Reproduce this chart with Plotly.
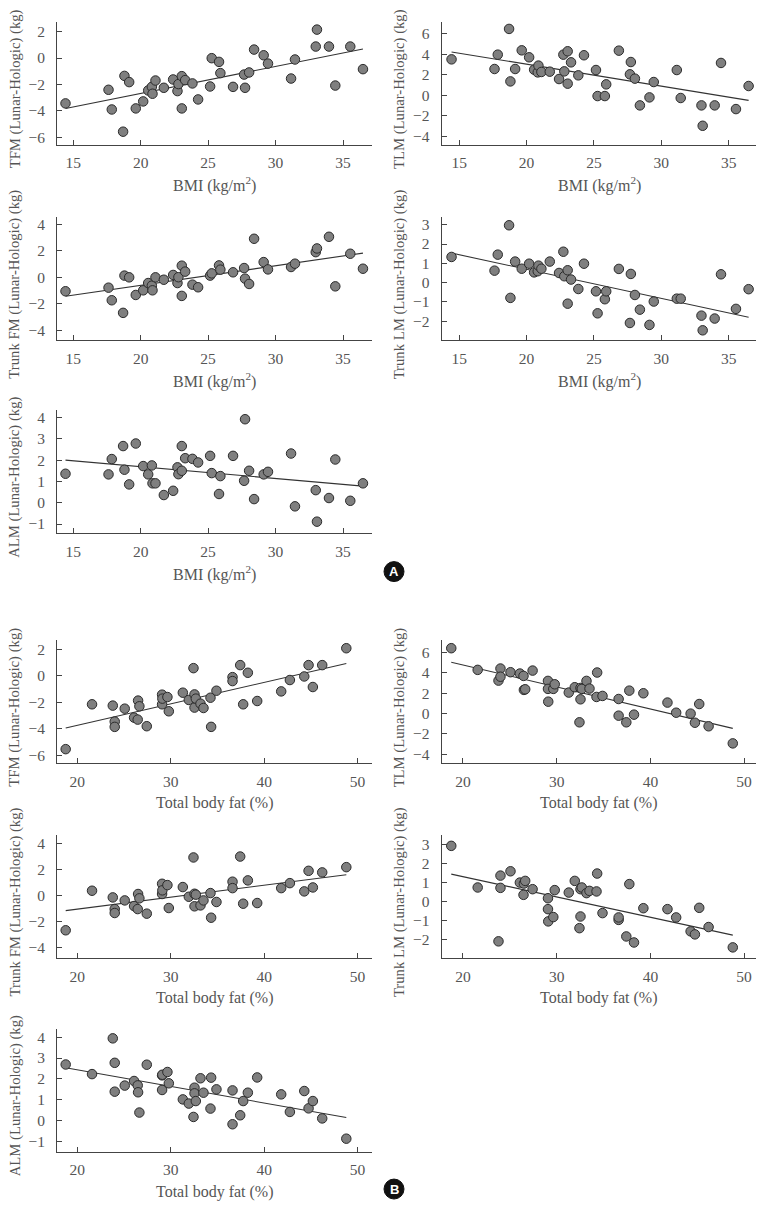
import plotly.graph_objects as go

W, H = 766, 1211

# ---------------- Data ----------------
# Section A: differences vs BMI (kg/m2)
bmi = [14.43, 17.62, 17.86, 18.70, 18.80, 19.15, 19.64, 20.19, 20.56, 20.83,
       20.88, 21.10, 21.72, 22.41, 22.73, 22.80, 23.05, 23.05, 23.30, 23.84,
       24.26, 25.15, 25.27, 25.81, 25.91, 26.85, 27.67, 27.74, 28.04, 28.41,
       29.12, 29.44, 31.15, 31.44, 32.98, 33.07, 33.96, 34.43, 35.54, 36.48]

tfm_a = [-3.43, -2.40, -3.89, -5.57, -1.35, -1.82, -3.81, -3.28, -2.45, -2.18,
         -2.70, -1.70, -2.25, -1.62, -2.50, -1.97, -1.37, -3.81, -1.67, -1.92,
         -3.13, -2.15, -0.01, -0.29, -1.14, -2.18, -1.25, -2.25, -1.09, 0.64,
         0.21, -0.42, -1.55, -0.11, 0.87, 2.15, 0.87, -2.08, 0.87, -0.84]

tlm_a = [3.52, 2.58, 3.98, 6.49, 1.37, 2.58, 4.40, 3.72, 2.51, 2.25,
         2.91, 2.29, 2.32, 1.60, 3.98, 2.35, 1.15, 4.31, 3.23, 1.96,
         3.92, 2.48, -0.06, -0.06, 1.08, 4.37, 2.06, 3.26, 1.64, -0.97,
         -0.19, 1.31, 2.48, -0.25, -0.97, -2.96, -0.97, 3.17, -1.33, 0.92]

trunkfm_a = [-1.06, -0.79, -1.74, -2.69, 0.12, -0.01, -1.34, -0.99, -0.44, -0.64,
             -0.99, -0.01, -0.19, 0.17, -0.44, 0.00, 0.87, -1.41, 0.42, -0.56,
             -0.76, 0.12, 0.29, 0.89, 0.57, 0.37, 0.69, -0.11, -0.51, 2.90,
             1.14, 0.59, 0.77, 1.02, 1.89, 2.17, 3.05, -0.69, 1.77, 0.64]

trunklm_a = [1.33, 0.62, 1.45, 2.97, -0.79, 1.09, 0.72, 0.98, 0.53, 0.59,
             0.88, 0.72, 1.09, 0.50, 1.60, 0.33, -1.09, 0.64, 0.16, -0.33,
             0.98, -0.45, -1.59, -0.86, -0.45, 0.71, -2.09, 0.45, -0.64, -1.40,
             -2.19, -0.98, -0.83, -0.83, -1.71, -2.47, -1.86, 0.43, -1.36, -0.34]

alm_a = [1.36, 1.33, 2.05, 2.66, 1.55, 0.86, 2.78, 1.72, 1.33, 1.75,
         0.91, 0.91, 0.36, 0.56, 1.66, 1.34, 1.50, 2.66, 2.09, 2.06,
         1.89, 2.20, 1.39, 0.41, 1.25, 2.20, 1.03, 3.92, 1.50, 0.17,
         1.33, 1.45, 2.31, -0.17, 0.59, -0.89, 0.22, 2.03, 0.09, 0.91]

# Section B: differences vs total body fat (%)
fat = [18.75, 21.57, 23.79, 24.00, 24.00, 25.07, 26.07, 26.46, 26.50, 26.64,
       27.43, 29.07, 29.07, 29.10, 29.64, 29.79, 31.29, 31.93, 32.43, 32.54,
       32.54, 32.68, 33.18, 33.50, 34.25, 34.32, 34.89, 36.61, 36.61, 37.43,
       37.75, 38.25, 39.25, 41.82, 42.75, 44.29, 44.75, 45.21, 46.21, 48.79]

tfm_b = [-5.55, -2.15, -2.25, -3.46, -3.86, -2.48, -3.16, -3.31, -1.87, -2.30,
         -3.81, -1.42, -2.15, -1.72, -1.60, -2.68, -1.27, -1.82, 0.59, -1.40,
         -2.40, -1.72, -2.10, -2.43, -1.65, -3.86, -1.12, -0.09, -0.39, 0.82,
         -2.15, 0.24, -1.90, -1.17, -0.31, -0.04, 0.82, -0.84, 0.82, 2.10]

tlm_b = [6.39, 4.27, 3.22, 4.40, 3.60, 4.04, 3.91, 3.68, 2.31, 2.37,
         4.20, 3.19, 2.41, 1.16, 2.41, 2.86, 2.05, 2.57, -0.86, 1.39,
         2.50, 2.41, 3.19, 2.44, 1.62, 4.01, 1.72, 1.42, -0.21, -0.86,
         2.24, -0.11, 1.98, 1.07, 0.08, -0.01, -0.90, 0.93, -1.25, -2.92]

trunkfm_b = [-2.65, 0.37, -0.14, -1.03, -1.33, -0.37, -0.80, -1.03, 0.12, -0.21,
             -1.38, 0.90, 0.12, 0.40, 0.80, -0.95, 0.65, -0.09, 2.91, 0.14,
             -0.82, 0.07, -0.75, -0.37, 0.19, -1.69, -0.49, 1.06, 0.57, 2.98,
             -0.62, 1.16, -0.57, 0.57, 0.95, 0.32, 1.89, 0.62, 1.77, 2.17]

trunklm_b = [2.95, 0.74, -2.12, 1.37, 0.72, 1.60, 1.00, 0.35, 0.95, 1.09,
             0.65, 0.17, -0.41, -1.06, -0.83, 0.60, 0.47, 1.09, -1.42, -0.80,
             0.65, 0.74, 0.44, 0.56, 0.53, 1.48, -0.62, -0.98, -0.85, -1.86,
             0.92, -2.18, -0.36, -0.41, -0.85, -1.59, -1.75, -0.34, -1.36, -2.44]

alm_b = [2.69, 2.23, 3.94, 2.77, 1.39, 1.68, 1.90, 1.69, 1.36, 0.39,
         2.68, 2.17, 1.47, 2.20, 2.33, 1.79, 1.02, 0.82, 0.18, 1.58,
         1.31, 0.94, 2.03, 1.34, 0.58, 2.06, 1.50, 1.45, -0.17, 0.26,
         0.94, 1.34, 2.07, 1.26, 0.42, 1.42, 0.59, 0.94, 0.11, -0.86]

# Regression line values at the min and max of x
fit_tfm_a = [-3.81, 0.69]
fit_tlm_a = [4.24, -0.48]
fit_trunkfm_a = [-1.44, 1.82]
fit_trunklm_a = [1.53, -1.79]
fit_alm_a = [2.00, 0.78]
fit_tfm_b = [-3.94, 0.94]
fit_tlm_b = [5.02, -1.45]
fit_trunkfm_b = [-1.15, 1.59]
fit_trunklm_b = [1.45, -1.79]
fit_alm_b = [2.53, 0.15]

bmi_ticks = [15, 20, 25, 30, 35]
fat_ticks = [20, 30, 40, 50]
bmi_title = "BMI (kg/m<sup>2</sup>)"
fat_title = "Total body fat (%)"

# ---------------- Layout geometry (pixels) ----------------
cols = {"L": (57, 372), "R": (441.7, 756.3)}
rows = [(20, 143), (215.7, 339), (409.3, 532.7),
        (639.5, 763.3), (835, 958.3), (1029.3, 1152.7)]

panels = [
    # x, y, fit, col, row, xrange, yrange, yticks, ytitle, xticks, xtitle
    (bmi, tfm_a, fit_tfm_a, "L", 0, [13.8, 37.15], [-6.55, 2.73], [-6, -4, -2, 0, 2],
     "TFM (Lunar-Hologic) (kg)", bmi_ticks, bmi_title),
    (bmi, tlm_a, fit_tlm_a, "R", 0, [13.7, 37.05], [-4.8, 7.17], [-4, -2, 0, 2, 4, 6],
     "TLM (Lunar-Hologic) (kg)", bmi_ticks, bmi_title),
    (bmi, trunkfm_a, fit_trunkfm_a, "L", 1, [13.8, 37.15], [-4.75, 4.53], [-4, -2, 0, 2, 4],
     "Trunk FM (Lunar-Hologic) (kg)", bmi_ticks, bmi_title),
    (bmi, trunklm_a, fit_trunklm_a, "R", 1, [13.7, 37.05], [-2.98, 3.39], [-2, -1, 0, 1, 2, 3],
     "Trunk LM (Lunar-Hologic) (kg)", bmi_ticks, bmi_title),
    (bmi, alm_a, fit_alm_a, "L", 2, [13.8, 37.15], [-1.44, 4.34], [-1, 0, 1, 2, 3, 4],
     "ALM (Lunar-Hologic) (kg)", bmi_ticks, bmi_title),
    (fat, tfm_b, fit_tfm_b, "L", 3, [17.82, 51.54], [-6.63, 2.73], [-6, -4, -2, 0, 2],
     "TFM (Lunar-Hologic) (kg)", fat_ticks, fat_title),
    (fat, tlm_b, fit_tlm_b, "R", 3, [17.73, 51.3], [-4.88, 7.2], [-4, -2, 0, 2, 4, 6],
     "TLM (Lunar-Hologic) (kg)", fat_ticks, fat_title),
    (fat, trunkfm_b, fit_trunkfm_b, "L", 4, [17.82, 51.54], [-4.76, 4.63], [-4, -2, 0, 2, 4],
     "Trunk FM (Lunar-Hologic) (kg)", fat_ticks, fat_title),
    (fat, trunklm_b, fit_trunklm_b, "R", 4, [17.73, 51.3], [-3.0, 3.53], [-2, -1, 0, 1, 2, 3],
     "Trunk LM (Lunar-Hologic) (kg)", fat_ticks, fat_title),
    (fat, alm_b, fit_alm_b, "L", 5, [17.82, 51.54], [-1.49, 4.4], [-1, 0, 1, 2, 3, 4],
     "ALM (Lunar-Hologic) (kg)", fat_ticks, fat_title),
]

SERIF = "Liberation Serif, Times New Roman, serif"
AXC = "#444444"
TXC = "#555555"

fig = go.Figure()
layout = dict(
    width=W, height=H, margin=dict(l=0, r=0, t=0, b=0),
    paper_bgcolor="white", plot_bgcolor="white", showlegend=False,
    annotations=[], shapes=[],
)

for i, (xs, ys, fit, col, row, xr, yr, yt, ytitle, xt, xtitle) in enumerate(panels, start=1):
    sfx = "" if i == 1 else str(i)
    x0, x1 = cols[col]
    top, bot = rows[row]
    xdom = [x0 / W, x1 / W]
    ydom = [1 - bot / H, 1 - top / H]
    fig.add_trace(go.Scatter(
        x=[min(xs), max(xs)], y=fit, mode="lines",
        line=dict(color="#333333", width=1.1),
        xaxis="x" + sfx, yaxis="y" + sfx, hoverinfo="skip"))
    fig.add_trace(go.Scatter(
        x=xs, y=ys, mode="markers", cliponaxis=False,
        marker=dict(size=9.5, color="#7f7f7f", line=dict(color="#2b2b2b", width=1)),
        xaxis="x" + sfx, yaxis="y" + sfx))
    common = dict(showline=True, linecolor=AXC, linewidth=1, ticks="inside",
                  ticklen=5, tickwidth=1, tickcolor=AXC, showgrid=False,
                  zeroline=False, tickfont=dict(family=SERIF, size=15.5, color=TXC))
    layout["xaxis" + sfx] = dict(domain=xdom, range=xr, tickvals=xt,
                                 anchor="y" + sfx, ticklabelstandoff=4, **common)
    layout["yaxis" + sfx] = dict(domain=ydom, range=yr, tickvals=yt,
                                 anchor="x" + sfx, ticklabelstandoff=8, **common)
    # axis titles
    layout["annotations"].append(dict(
        xref="paper", yref="paper", x=(x0 + x1) / 2 / W, y=1 - (bot + 40) / H,
        text=xtitle, showarrow=False, xanchor="center", yanchor="middle",
        font=dict(family=SERIF, size=16, color=TXC)))
    layout["annotations"].append(dict(
        xref="paper", yref="paper", x=(x0 - 42) / W, y=1 - ((top + bot) / 2 + 6) / H,
        text=ytitle, showarrow=False, textangle=-90, xanchor="center", yanchor="middle",
        font=dict(family=SERIF, size=14.7, color=TXC)))

# Section labels A and B
for lab, cy in (("A", 571), ("B", 1190)):
    cx, r = 394, 10
    layout["shapes"].append(dict(
        type="circle", xref="paper", yref="paper",
        x0=(cx - r) / W, x1=(cx + r) / W, y0=1 - (cy + r) / H, y1=1 - (cy - r) / H,
        fillcolor="#111111", line=dict(color="#111111", width=1)))
    layout["annotations"].append(dict(
        xref="paper", yref="paper", x=cx / W, y=1 - cy / H, text="<b>%s</b>" % lab,
        showarrow=False, xanchor="center", yanchor="middle",
        font=dict(family="Liberation Sans, Arial, sans-serif", size=13, color="white")))

fig.update_layout(**layout)
fig.write_html(
    "out.html",
    config={"responsive": False, "displayModeBar": False},
    post_script="document.body.style.margin='0';document.body.style.padding='0';"
                "document.documentElement.style.overflow='hidden';",
)
